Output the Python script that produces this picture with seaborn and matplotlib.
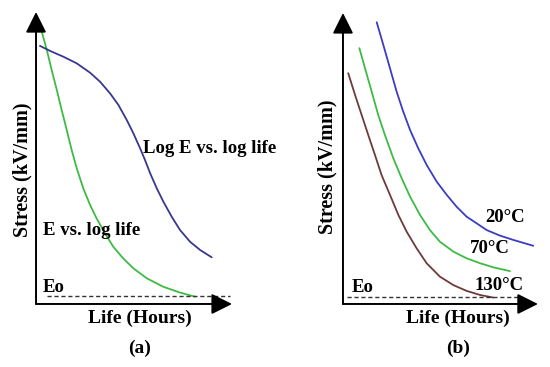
import matplotlib
matplotlib.use("Agg")
import matplotlib.pyplot as plt
import seaborn as sns
import pandas as pd

# ---- data (schematic, 0-100 scale for life and stress) ----
a_green_life = [2.9, 5.5, 8.0, 10.6, 13.1, 15.7, 18.2, 20.8, 24.1, 27.6, 30.9,
                35.2, 39.4, 44.5, 49.7, 56.5, 64.9, 73.5, 81.1]
a_green_stress = [93.3, 87.0, 80.1, 73.3, 66.4, 59.5, 52.7, 46.4, 39.6, 33.9, 29.3,
                  24.2, 19.6, 15.6, 12.2, 8.8, 5.9, 3.9, 2.5]
a_blue_life = [2.0, 7.1, 13.9, 20.8, 27.6, 32.7, 37.8, 42.0, 46.3, 49.7, 53.1,
               55.6, 58.2, 61.6, 65.0, 69.2, 73.5, 78.6, 83.7, 89.6]
a_blue_stress = [88.4, 86.7, 84.7, 82.4, 79.2, 76.1, 72.1, 68.2, 63.0, 58.4, 53.3,
                 49.3, 44.8, 39.6, 35.0, 29.9, 25.3, 21.3, 18.5, 16.0]
a_eo_life = [5.6, 99.0]
a_eo_stress = [2.7, 2.7]

b_20_life = [17.3, 20.7, 24.1, 27.5, 30.9, 34.4, 38.6, 42.9, 48.1, 53.2, 58.3,
             63.4, 68.6, 73.7, 80.5, 87.4, 97.6]
b_20_stress = [96.8, 89.0, 81.0, 73.0, 66.1, 59.8, 53.5, 47.8, 42.0, 37.5, 33.4,
               30.0, 27.7, 25.4, 23.5, 22.0, 20.0]
b_70_life = [8.4, 11.3, 14.7, 18.1, 21.5, 25.8, 30.1, 34.4, 39.5, 44.6, 49.7,
             56.6, 63.4, 70.3, 77.1, 85.6]
b_70_stress = [87.9, 81.0, 73.0, 64.9, 58.1, 50.1, 43.2, 36.9, 30.6, 25.4, 21.4,
               18.0, 15.7, 14.0, 12.6, 11.3]
b_130_life = [2.7, 6.2, 9.6, 13.0, 16.4, 19.8, 24.1, 28.4, 32.7, 37.8, 42.9,
              49.7, 56.6, 63.4, 70.3, 77.1]
b_130_stress = [79.3, 71.8, 64.9, 58.0, 51.2, 44.3, 37.5, 30.6, 24.8, 19.1, 14.0,
                9.4, 6.5, 4.5, 3.1, 2.2]
b_eo_life = [2.1, 91.8]
b_eo_stress = [2.4, 2.4]

sns.set_style("white")
plt.rcParams["font.family"] = ["Liberation Serif", "DejaVu Serif"]
plt.rcParams["font.weight"] = "bold"
plt.rcParams["text.color"] = "black"

fig = plt.figure(figsize=(5.5, 3.67), dpi=100)
ax1 = fig.add_axes([0.0655, 0.1717, 0.3564, 0.7956])
ax2 = fig.add_axes([0.6236, 0.1717, 0.3545, 0.7930])

def line(ax, x, y, color, lw=1.3, ls="-"):
    df = pd.DataFrame({"life": x, "stress": y})
    sns.lineplot(data=df, x="life", y="stress", ax=ax, color=color, lw=lw,
                 linestyle=ls, sort=False, estimator=None)

line(ax1, a_green_life, a_green_stress, "#3dbb45")
line(ax1, a_blue_life, a_blue_stress, "#38388e")
line(ax1, a_eo_life, a_eo_stress, "#333333", lw=1.0, ls=(0, (3, 2)))

line(ax2, b_20_life, b_20_stress, "#3c3cc4")
line(ax2, b_70_life, b_70_stress, "#3dbb45")
line(ax2, b_130_life, b_130_stress, "#6e3a3a")
line(ax2, b_eo_life, b_eo_stress, "#333333", lw=1.0, ls=(0, (3, 2)))

for ax in (ax1, ax2):
    ax.set_xlim(0, 100)
    ax.set_ylim(0, 100)
    for s in ax.spines.values():
        s.set_visible(False)
    ax.set_xticks([])
    ax.set_yticks([])
    ax.set_xlabel("")
    ax.set_ylabel("")
    ax.patch.set_alpha(0)
    ap = dict(arrowstyle="-|>,head_length=0.9,head_width=0.45", color="black",
              lw=1.4, shrinkA=0, shrinkB=0, mutation_scale=14)
    ax.annotate("", xy=(100, 0), xytext=(0, 0), arrowprops=ap,
                annotation_clip=False)
    ax.annotate("", xy=(0, 100), xytext=(0, 0), arrowprops=ap,
                annotation_clip=False)

fs = 13.5
kw = dict(color="black", fontweight="bold")
# panel a texts
ax1.text(-0.071, 0.459, "Stress (kV/mm)", transform=ax1.transAxes, rotation=90,
         ha="center", va="center", fontsize=14.5, **kw)
ax1.text(0.53, -0.048, "Life (Hours)", transform=ax1.transAxes,
         ha="center", va="center", fontsize=14, **kw)
ax1.text(0.53, -0.151, "(a)", transform=ax1.transAxes,
         ha="center", va="center", fontsize=14, **kw)
ax1.text(54.6, 53.4, "Log E vs. log life", ha="left", va="center",
         fontsize=fs, clip_on=False, **kw)
ax1.text(3.6, 25.3, "E vs. log life", ha="left", va="center",
         fontsize=fs, clip_on=False, **kw)
ax1.text(3.6, 5.8, "Eo", ha="left", va="center",
         fontsize=fs, clip_on=False, **kw)

# panel b texts
ax2.text(-0.082, 0.471, "Stress (kV/mm)", transform=ax2.transAxes, rotation=90,
         ha="center", va="center", fontsize=14.5, **kw)
ax2.text(0.59, -0.048, "Life (Hours)", transform=ax2.transAxes,
         ha="center", va="center", fontsize=14, **kw)
ax2.text(0.59, -0.151, "(b)", transform=ax2.transAxes,
         ha="center", va="center", fontsize=14, **kw)
ax2.text(72.8, 29.6, "20°C", ha="left", va="center",
         fontsize=fs, clip_on=False, **kw)
ax2.text(65.1, 19.2, "70°C", ha="left", va="center",
         fontsize=fs, clip_on=False, **kw)
ax2.text(67.2, 6.5, "130°C", ha="left", va="center",
         fontsize=fs, clip_on=False, **kw)
ax2.text(4.6, 5.8, "Eo", ha="left", va="center",
         fontsize=fs, clip_on=False, **kw)

fig.savefig("out.png", dpi=100)
